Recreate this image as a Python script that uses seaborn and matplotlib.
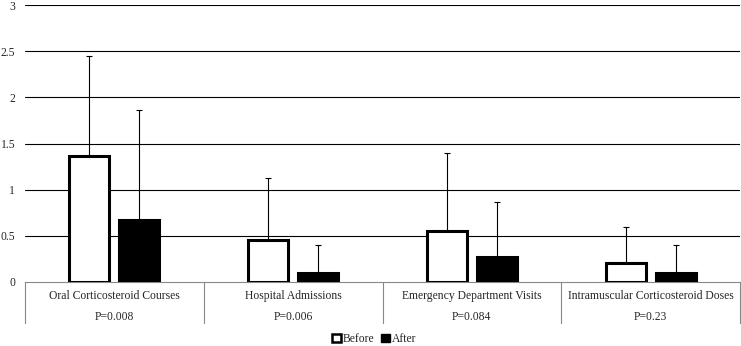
import numpy as np
import pandas as pd
import matplotlib
matplotlib.use("Agg")
import matplotlib.pyplot as plt
from matplotlib.patches import Patch
import seaborn as sns

categories = ["Oral Corticosteroid Courses", "Hospital Admissions",
              "Emergency Department Visits", "Intramuscular Corticosteroid Doses"]
p_values = ["P=0.008", "P=0.006", "P=0.084", "P=0.23"]
before_mean = [1.36, 0.46, 0.555, 0.205]
after_mean = [0.675, 0.097, 0.27, 0.097]
before_sd = [1.09, 0.67, 0.845, 0.395]
after_sd = [1.19, 0.305, 0.60, 0.305]
y_ticks = [0, 0.5, 1, 1.5, 2, 2.5, 3]

df = pd.DataFrame({
    "category": categories * 2,
    "period": ["Before"] * 4 + ["After"] * 4,
    "value": before_mean + after_mean,
})
errors = {"Before": before_sd, "After": after_sd}

sns.set_theme(style="white")
plt.rcParams["font.family"] = ["Liberation Serif", "DejaVu Serif"]
fs = 8.4

fig = plt.figure(figsize=(7.41, 3.46), dpi=100)
ax = fig.add_axes([25 / 741, 64 / 346, 715 / 741, 277 / 346])

sns.barplot(data=df, x="category", y="value", hue="period",
            hue_order=["Before", "After"], palette=["white", "black"],
            width=0.56, gap=0.2, errorbar=None, legend=False,
            edgecolor="black", linewidth=2.2, ax=ax, zorder=3)

# error bars (upper only) from bar geometry
for container, period in zip(ax.containers, ["Before", "After"]):
    xs = [b.get_x() + b.get_width() / 2 for b in container]
    hs = [b.get_height() for b in container]
    err = errors[period]
    ax.errorbar(xs, hs, yerr=[np.zeros(len(err)), err], fmt="none",
                ecolor="black", elinewidth=0.8, capsize=2.5, capthick=0.8,
                zorder=2)

ax.set_xlim(-0.5, len(categories) - 0.5)
ax.set_ylim(0, 3)
ax.set_yticks(y_ticks)
ax.set_yticklabels([f"{v:g}" for v in y_ticks], fontsize=fs)
ax.tick_params(axis="y", length=0, pad=7)
ax.set_xticks([])
ax.set_xlabel("")
ax.set_ylabel("")
for t in y_ticks[1:]:
    ax.axhline(t, color="black", lw=0.8, zorder=1)
for s in ["left", "right", "top"]:
    ax.spines[s].set_visible(False)
ax.spines["bottom"].set_color("#888888")
ax.spines["bottom"].set_linewidth(0.8)

# table-style category labels below axis
tr = ax.get_xaxis_transform()
for i, (cat, p) in enumerate(zip(categories, p_values)):
    ax.text(i, -0.05, cat, transform=tr, ha="center", va="center", fontsize=fs)
    ax.text(i, -0.126, p, transform=tr, ha="center", va="center", fontsize=fs)
for b in np.arange(len(categories) + 1) - 0.5:
    ax.plot([b, b], [0, -0.148], transform=tr, color="#888888", lw=0.8,
            clip_on=False)

handles = [Patch(facecolor="white", edgecolor="black", linewidth=1.8, label="Before"),
           Patch(facecolor="black", edgecolor="black", label="After")]
fig.legend(handles=handles, loc="center", bbox_to_anchor=(0.505, 0.02), ncol=2,
           frameon=False, fontsize=fs, handlelength=0.75, handleheight=0.75,
           handletextpad=0.15, columnspacing=0.6, borderaxespad=0)

fig.savefig("out.png", dpi=100)
